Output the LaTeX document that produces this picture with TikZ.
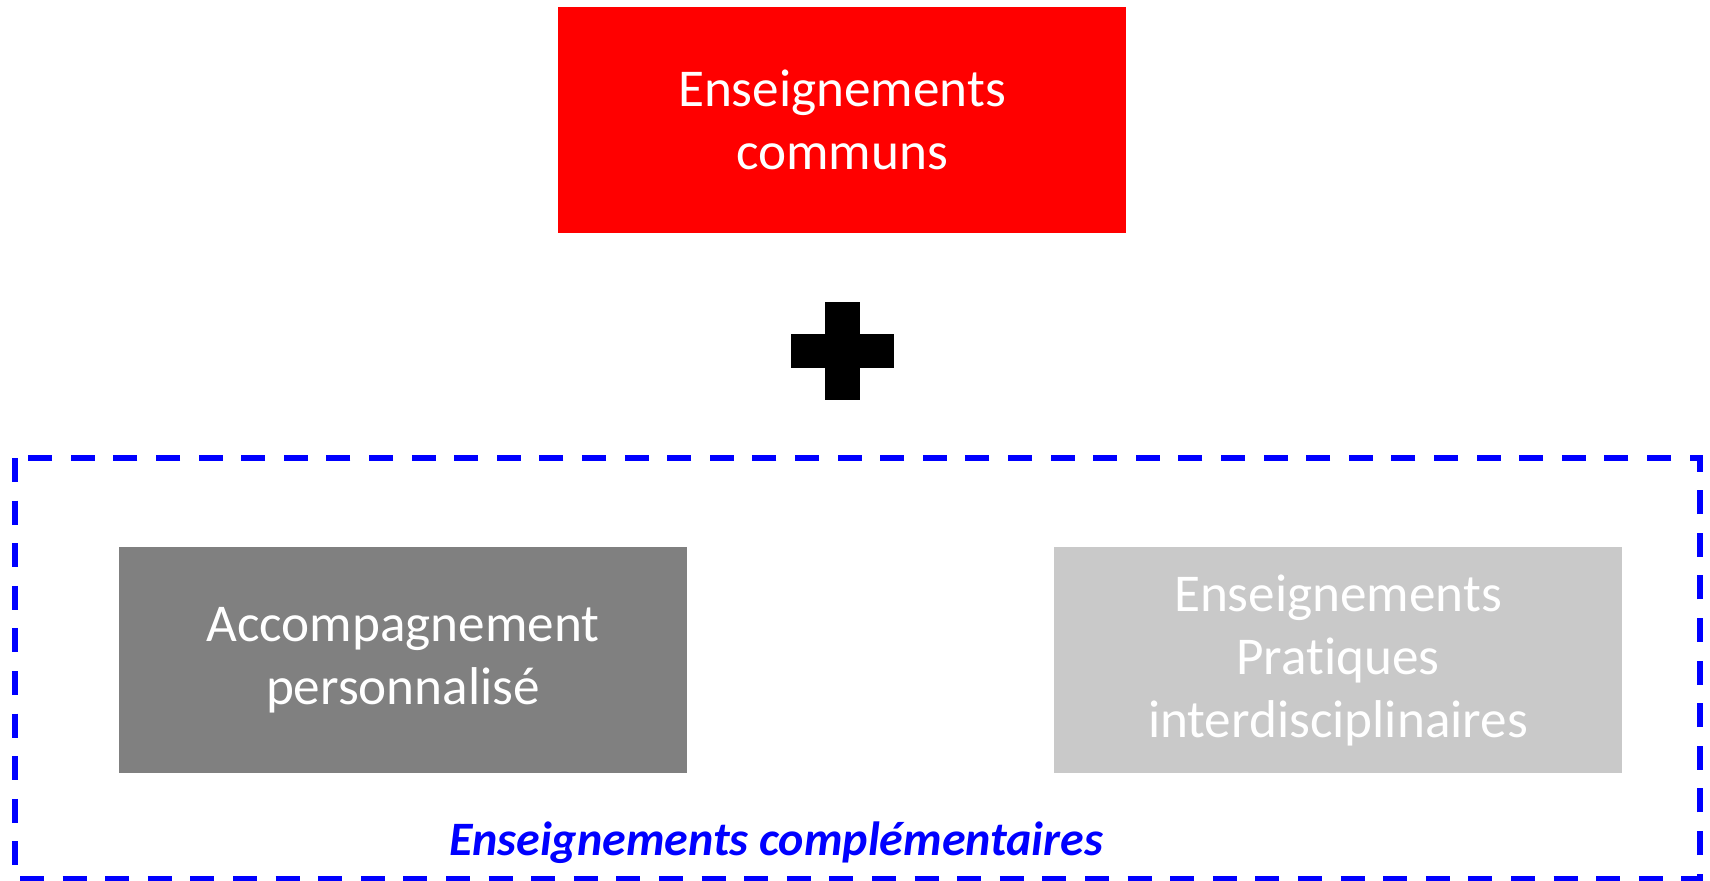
\documentclass[tikz,border=0pt]{standalone}
\usepackage{fontspec}
\setmainfont{Carlito}[Ligatures=NoCommon]
\begin{document}
\begin{tikzpicture}[x=0.5pt,y=-0.5pt,
  bloc/.style={minimum width=284pt,minimum height=113pt,inner sep=0pt,
    align=center,text=white,font=\fontsize{26.6}{31.5}\selectfont},
  cadre/.style={draw=blue,line width=2.75pt,dash pattern=on 12pt off 9.3pt}]
\useasboundingbox (0,0) rectangle (1710,880);

\node[bloc,fill=red!100] (communs) at (842,120) {Enseignements\\communs};

% le signe plus
\fill[black] (791,334) rectangle (894,368);
\fill[black] (825,302) rectangle (860,400);

\draw[cadre] (15,458) rectangle (1700,879);

\node[bloc,fill=black!50] (ap) at (403,660) {Accompagnement\\personnalisé};
\node[bloc,fill=black!21] (epi) at (1338,660) {Enseignements\\Pratiques\\interdisciplinaires};

\node[text=blue,font=\fontsize{24}{28}\selectfont\bfseries\itshape] (complementaires) at (776,843) {Enseignements complémentaires};
\end{tikzpicture}
\end{document}
